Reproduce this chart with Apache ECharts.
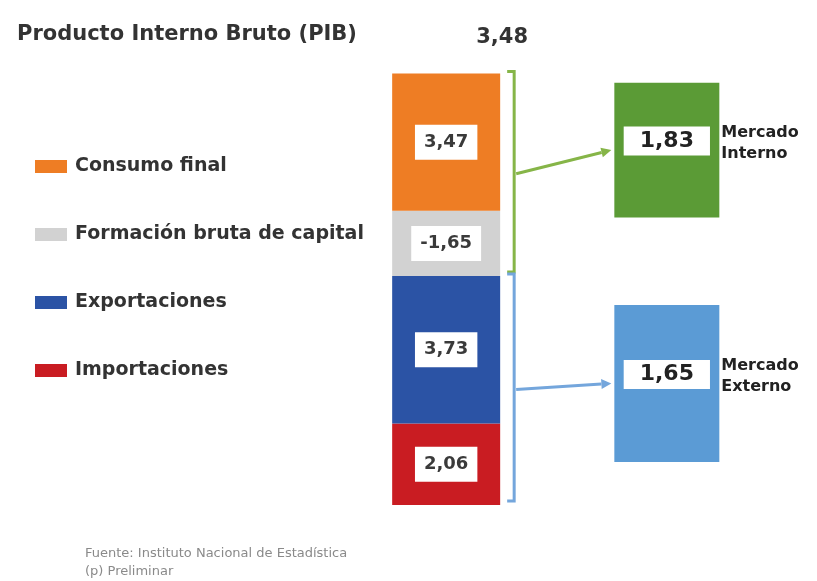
<!DOCTYPE html>
<html>
<head>
<meta charset="utf-8">
<script src="https://cdn.jsdelivr.net/npm/echarts@6/dist/echarts.min.js"></script>
<style>
  html, body { margin: 0; padding: 0; background: #fff; }
  #main { width: 817px; height: 581px; }
</style>
</head>
<body>
<div id="main"></div>
<script>
// data
var components = ['Consumo final', 'Formación bruta de capital', 'Exportaciones', 'Importaciones'];
var componentValues = [3.47, -1.65, 3.73, 2.06];
var pibTotal = 3.48;
var markets = ['Mercado\nInterno', 'Mercado\nExterno'];
var marketValues = [1.83, 1.65];
var marketParts = [[0, 1], [2, 3]]; // components feeding each market

// styles / layout
var FONT = 'DejaVu Sans';
var colors = ['#ee7d24', '#d2d2d2', '#2b53a5', '#c91c22'];
var marketColors = ['#5b9b36', '#5b9bd5'];
var bracketColors = ['#86b548', '#74a6dc'];
var boxRanges = [[7.27, 10.68], [1.09, 5.06]]; // vertical extent of market boxes in axis units

function fmt(v) { return v.toFixed(2).replace('.', ','); }

var myChart = echarts.init(document.getElementById('main'));

// stacked bottom of each component (importaciones at the bottom)
var bottoms = [];
var acc = 0;
for (var k = components.length - 1; k >= 0; k--) {
    bottoms[k] = acc;
    acc += Math.abs(componentValues[k]);
}
var stackTop = acc;

var series = [];
for (var i = components.length - 1; i >= 0; i--) {
    (function (i) {
        var s = {
            name: components[i],
            type: 'bar',
            stack: 'pib',
            barWidth: 108,
            itemStyle: { color: colors[i] },
            data: [Math.abs(componentValues[i])],
            label: {
                show: true,
                position: 'inside',
                formatter: function () { return fmt(componentValues[i]); },
                backgroundColor: '#fff',
                padding: [9, 9, 8, 9],
                fontFamily: FONT,
                fontSize: 18,
                fontWeight: 'bold',
                color: '#3a3a3a'
            }
        };
        if (i === 0) {
            s.markPoint = {
                symbolSize: 0,
                data: [{ coord: [0, stackTop] }],
                label: {
                    show: true,
                    offset: [56, -36],
                    formatter: fmt(pibTotal),
                    fontFamily: FONT,
                    fontSize: 21,
                    fontWeight: 'bold',
                    color: '#333'
                }
            };
        }
        series.push(s);
    })(i);
}

// market boxes
series.push({
    type: 'custom',
    data: markets.map(function (m, j) { return [2, boxRanges[j][0], boxRanges[j][1], j]; }),
    encode: { x: 0, y: [1, 2] },
    renderItem: function (params, api) {
        var j = api.value(3);
        var lo = api.coord([2, api.value(1)]);
        var hi = api.coord([2, api.value(2)]);
        var w = 105;
        var x = lo[0] - w / 2;
        var mid = (lo[1] + hi[1]) / 2;
        return {
            type: 'group',
            children: [{
                type: 'rect',
                shape: { x: x, y: hi[1], width: w, height: lo[1] - hi[1] },
                style: { fill: marketColors[j] },
                textContent: {
                    style: {
                        text: fmt(marketValues[j]),
                        fill: '#222',
                        fontFamily: FONT,
                        fontSize: 22,
                        fontWeight: 'bold',
                        backgroundColor: '#fff',
                        padding: [4, 16, 3, 16]
                    }
                },
                textConfig: { position: 'inside', offset: [0, -9] }
            }, {
                type: 'text',
                x: x + w + 2,
                y: mid - 7,
                style: {
                    text: markets[j],
                    fill: '#222',
                    fontFamily: FONT,
                    fontSize: 16,
                    fontWeight: 'bold',
                    lineHeight: 21,
                    align: 'left',
                    verticalAlign: 'middle'
                }
            }]
        };
    },
    z: 3
});

// brackets + arrows
series.push({
    type: 'custom',
    data: marketParts.map(function (p, j) {
        var lo = bottoms[p[p.length - 1]];
        var hi = bottoms[p[0]] + Math.abs(componentValues[p[0]]);
        return [0, lo, hi, boxRanges[j][0], boxRanges[j][1], j];
    }),
    encode: { x: 0, y: [1, 2] },
    renderItem: function (params, api) {
        var j = api.value(5);
        var pLo = api.coord([0, api.value(1)]);
        var pHi = api.coord([0, api.value(2)]);
        var bLo = api.coord([2, api.value(3)]);
        var bHi = api.coord([2, api.value(4)]);
        var bx = pLo[0] + 54 + 14;
        var top = pHi[1] - 2, bottom = pLo[1] - 4;
        var mid = (top + bottom) / 2;
        var ex = bLo[0] - 52.5 - 3, ey = (bLo[1] + bHi[1]) / 2;
        var sx = bx + 2, sy = mid + 2;
        var dx = ex - sx, dy = ey - sy, len = Math.sqrt(dx * dx + dy * dy);
        var ux = dx / len, uy = dy / len;
        var hl = 10, hw = 5;
        var c = bracketColors[j];
        return {
            type: 'group',
            children: [{
                type: 'polyline',
                shape: { points: [[bx - 7, top], [bx, top], [bx, bottom], [bx - 7, bottom]] },
                style: { stroke: c, lineWidth: 3, fill: null }
            }, {
                type: 'line',
                shape: { x1: sx, y1: sy, x2: ex - ux * hl, y2: ey - uy * hl },
                style: { stroke: c, lineWidth: 3 }
            }, {
                type: 'polygon',
                shape: { points: [
                    [ex, ey],
                    [ex - ux * hl - uy * hw, ey - uy * hl + ux * hw],
                    [ex - ux * hl + uy * hw, ey - uy * hl - ux * hw]
                ] },
                style: { fill: c }
            }]
        };
    },
    z: 3
});

var option = {
    animation: false,
    title: [{
        text: 'Producto Interno Bruto (PIB)',
        left: 12,
        top: 19,
        textStyle: { fontFamily: FONT, fontSize: 21, fontWeight: 'bold', color: '#333' }
    }, {
        text: 'Fuente: Instituto Nacional de Estadística\n(p) Preliminar',
        left: 80,
        top: 540,
        textStyle: { fontFamily: FONT, fontSize: 13, fontWeight: 'normal', color: '#8a8a8a', lineHeight: 18 }
    }],
    legend: {
        data: components,
        orient: 'vertical',
        left: 35,
        top: 157,
        padding: 0,
        itemWidth: 32,
        itemHeight: 13,
        itemGap: 49,
        icon: 'rect',
        textStyle: { fontFamily: FONT, fontSize: 19, fontWeight: 'bold', color: '#333', padding: [0, 0, 0, 3] },
        selectedMode: false
    },
    grid: { left: 391, right: 95, top: 70, bottom: 76 },
    xAxis: {
        type: 'category',
        data: ['PIB', '', 'Mercado'],
        show: false
    },
    yAxis: {
        type: 'value',
        min: 0,
        max: 11,
        show: false
    },
    series: series
};
myChart.setOption(option);
</script>
</body>
</html>
